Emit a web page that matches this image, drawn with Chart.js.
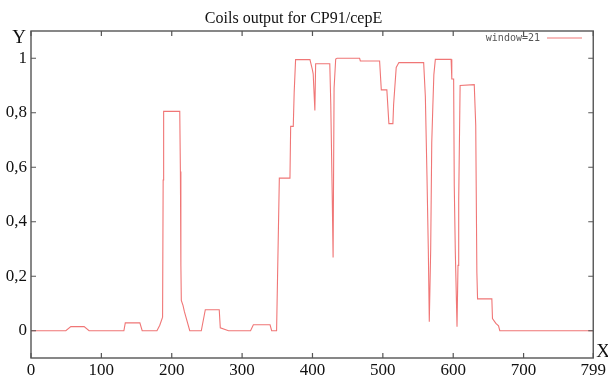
<!DOCTYPE html>
<html>
<head>
<meta charset="utf-8">
<title>Coils output for CP91/cepE</title>
<script src="https://cdn.jsdelivr.net/npm/chart.js@4/dist/chart.umd.min.js"></script>
<style>
  body { margin: 0; background: #fff; }
  #wrap { width: 608px; height: 376px; }
</style>
</head>
<body>
<div id="wrap"><canvas id="coilsChart" width="608" height="376"></canvas></div>
<script>
// residue position (x) and coil probability (y)
const residuePos = [0, 49.5, 56.6, 75.5, 82.5, 132, 134, 154.7, 158, 179, 183, 187, 187.8, 188.5, 211.4, 212.3, 213, 213.6, 216, 218, 225.6,
    242, 247.7, 267.5, 269, 280.7, 312, 316, 339.7, 342, 348, 349, 352.9, 368, 369, 372.7, 374, 376,
    396.4, 399.7, 401, 403.4, 404.5, 424.6, 426, 428, 429.3, 430.7, 433, 435, 467, 468, 495.4, 497.8, 505.7, 508.6, 514.3, 515.3, 519, 522.8,
    558, 560.4, 562.7, 564.6, 566, 568, 569.5, 571, 572.5, 574.6, 597, 598, 600.6, 601.5, 603, 605.4, 606.8, 607.8, 609.8,
    629.9, 632, 633.6, 634.6, 654.9, 655.8, 660.6, 664.4, 666.2, 799];
const coilScore = [0, 0, 0.015, 0.015, 0, 0, 0.029, 0.029, 0, 0, 0.02, 0.05, 0.553, 0.805, 0.805, 0.584, 0.239, 0.111, 0.093, 0.07, 0,
    0, 0.077, 0.077, 0.011, 0, 0, 0.022, 0.022, 0, 0, 0, 0.56, 0.56, 0.75, 0.75, 0.875, 0.995,
    0.995, 0.96, 0.943, 0.808, 0.98, 0.98, 0.833, 0.507, 0.269, 0.89, 0.997, 1.0, 1.0, 0.99, 0.99, 0.884, 0.884, 0.76, 0.76, 0.83, 0.966, 0.984,
    0.984, 0.86, 0.57, 0.299, 0.033, 0.3, 0.69, 0.82, 0.94, 0.996, 0.996, 0.924, 0.924, 0.53, 0.287, 0.015, 0.24, 0.48, 0.9,
    0.903, 0.754, 0.215, 0.117, 0.117, 0.045, 0.027, 0.018, 0, 0];

const xTicks = [0, 100, 200, 300, 400, 500, 600, 700, 799];
const xTickLabels = ["0", "100", "200", "300", "400", "500", "600", "700", "799"];
const yTicks = [0, 0.2, 0.4, 0.6, 0.8, 1];
const yTickLabels = ["0", "0,2", "0,4", "0,6", "0,8", "1"];

const seriesName = "window=21";
const chartTitle = "Coils output for CP91/cepE";

const lineColor = "#f07676";
const serif = "'Liberation Serif', 'Times New Roman', serif";

// gnuplot look: framed box, inward ticks on every side, title and axis letters
const gnuplotFrame = {
    id: "gnuplotFrame",
    afterDraw(chart) {
        const ctx = chart.ctx;
        const a = chart.chartArea;
        const xs = chart.scales.x;
        const ys = chart.scales.y;
        ctx.save();

        ctx.strokeStyle = "#555";
        ctx.lineWidth = 1.4;
        ctx.strokeRect(a.left, a.top, a.right - a.left, a.bottom - a.top);

        ctx.lineWidth = 1.2;
        ctx.beginPath();
        xTicks.forEach(v => {
            const px = xs.getPixelForValue(v);
            ctx.moveTo(px, a.bottom); ctx.lineTo(px, a.bottom - 5);
            ctx.moveTo(px, a.top); ctx.lineTo(px, a.top + 5);
        });
        yTicks.forEach(v => {
            const py = ys.getPixelForValue(v);
            ctx.moveTo(a.left, py); ctx.lineTo(a.left + 5, py);
            ctx.moveTo(a.right, py); ctx.lineTo(a.right - 5, py);
        });
        ctx.stroke();

        // title
        ctx.fillStyle = "#111";
        ctx.font = "16px " + serif;
        ctx.textAlign = "center";
        ctx.textBaseline = "alphabetic";
        ctx.fillText(chartTitle, 293.5, 23);

        // axis letters
        ctx.font = "19px " + serif;
        ctx.fillText("Y", 19, 43);
        ctx.fillText("X", 603, 357);

        // key
        ctx.font = "10px 'DejaVu Sans Mono', monospace";
        ctx.fillStyle = "#555";
        ctx.textAlign = "right";
        ctx.textBaseline = "middle";
        ctx.fillText(seriesName, 540, 38);
        ctx.strokeStyle = lineColor;
        ctx.lineWidth = 1.2;
        ctx.beginPath();
        ctx.moveTo(547, 38); ctx.lineTo(582, 38);
        ctx.stroke();

        ctx.restore();
    }
};

new Chart(document.getElementById("coilsChart"), {
    type: "line",
    data: {
        datasets: [{
            label: seriesName,
            data: residuePos.map((x, i) => ({ x: x, y: coilScore[i] })),
            borderColor: lineColor,
            borderWidth: 1.1,
            pointRadius: 0,
            tension: 0,
            fill: false
        }]
    },
    options: {
        responsive: false,
        animation: false,
        layout: { padding: { left: 0, right: 13, top: 31, bottom: 0 } },
        plugins: {
            legend: { display: false },
            title: { display: false },
            tooltip: { enabled: false }
        },
        scales: {
            x: {
                type: "linear",
                min: 0,
                max: 799,
                grid: { display: false, drawTicks: false },
                border: { display: false },
                afterBuildTicks: scale => { scale.ticks = xTicks.map(v => ({ value: v })); },
                afterFit: scale => { scale.height = 18; },
                ticks: {
                    padding: 2,
                    maxRotation: 0,
                    autoSkip: false,
                    color: "#111",
                    font: { family: serif, size: 17 },
                    callback: (value, index) => xTickLabels[index]
                }
            },
            y: {
                min: -0.1,
                max: 1.1,
                grid: { display: false, drawTicks: false },
                border: { display: false },
                afterBuildTicks: scale => { scale.ticks = yTicks.map(v => ({ value: v })); },
                afterFit: scale => { scale.width = 31; },
                ticks: {
                    padding: 4,
                    autoSkip: false,
                    color: "#111",
                    font: { family: serif, size: 17 },
                    callback: (value, index) => yTickLabels[index]
                }
            }
        }
    },
    plugins: [gnuplotFrame]
});
</script>
</body>
</html>
